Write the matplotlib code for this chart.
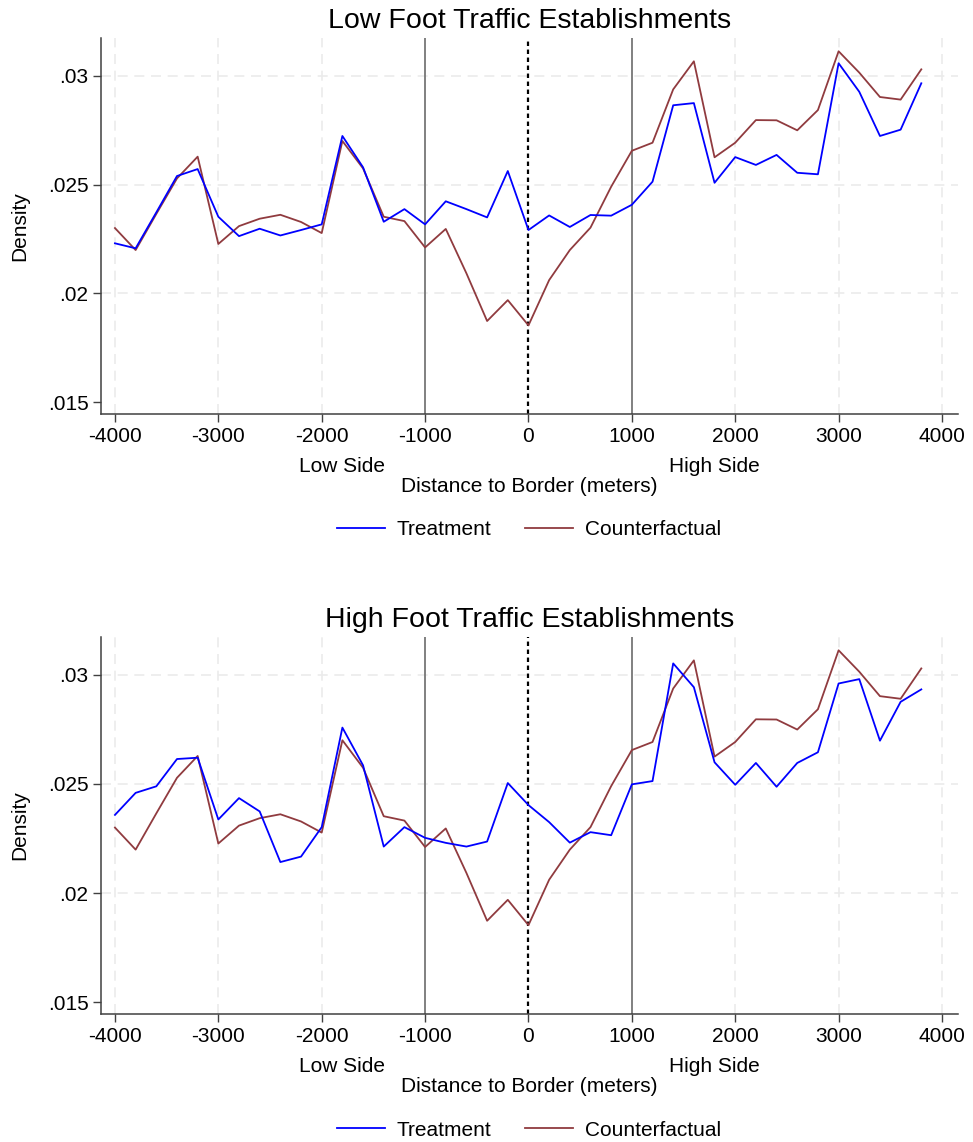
import matplotlib
matplotlib.use("Agg")
import matplotlib.pyplot as plt
import numpy as np

plt.rcParams['font.family'] = ['Liberation Sans', 'DejaVu Sans']

distance = list(range(-4000, 4000, 200))

treat_low = [0.02230, 0.02207, 0.02372, 0.02539, 0.02571, 0.02352, 0.02263, 0.02297,
             0.02266, 0.02291, 0.02317, 0.02723, 0.02579, 0.02329, 0.02387, 0.02317,
             0.02423, 0.02387, 0.02349, 0.02562, 0.02291, 0.02358, 0.02305, 0.02360,
             0.02357, 0.02407, 0.02513, 0.02864, 0.02874, 0.02508, 0.02626, 0.02590,
             0.02636, 0.02554, 0.02547, 0.03057, 0.02926, 0.02723, 0.02752, 0.02965]

treat_high = [0.02358, 0.02459, 0.02489, 0.02614, 0.02620, 0.02337, 0.02435, 0.02374,
              0.02142, 0.02167, 0.02302, 0.02758, 0.02585, 0.02213, 0.02302, 0.02253,
              0.02230, 0.02213, 0.02236, 0.02504, 0.02403, 0.02325, 0.02231, 0.02279,
              0.02265, 0.02498, 0.02513, 0.03052, 0.02943, 0.02599, 0.02496, 0.02596,
              0.02487, 0.02596, 0.02645, 0.02960, 0.02980, 0.02698, 0.02876, 0.02933]

counterfactual = [0.02300, 0.02199, 0.02365, 0.02528, 0.02628, 0.02227, 0.02309, 0.02343,
                  0.02361, 0.02328, 0.02277, 0.02700, 0.02574, 0.02352, 0.02332, 0.02211,
                  0.02296, 0.02092, 0.01873, 0.01969, 0.01853, 0.02061, 0.02199, 0.02302,
                  0.02490, 0.02655, 0.02692, 0.02937, 0.03066, 0.02625, 0.02692, 0.02796,
                  0.02795, 0.02749, 0.02842, 0.03112, 0.03014, 0.02902, 0.02890, 0.03029]

titles = ["Low Foot Traffic Establishments", "High Foot Traffic Establishments"]
xticks = [-4000, -3000, -2000, -1000, 0, 1000, 2000, 3000, 4000]
yticks = [0.015, 0.02, 0.025, 0.03]
ytick_labels = [".015", ".02", ".025", ".03"]

W, H = 973, 1142
fig = plt.figure(figsize=(W / 100, H / 100), dpi=100)

BLUE = '#0000ff'
RED = '#903b3f'
FS = 15
px2pt = 72 / 100

panels = [
    (38, 414, treat_low),
    (637, 1014, treat_high),
]

for i, (top, bot, treat) in enumerate(panels):
    left, right = 101, 958
    ax = fig.add_axes([left / W, 1 - bot / H, (right - left) / W, (bot - top) / H])
    ax.set_xlim(-4135, 4155)
    ax.set_ylim(0.01446, 0.03173)

    # grid
    for xv in [-4000, -3000, -2000, 2000, 3000, 4000]:
        ax.axvline(xv, color='#ebebeb', lw=1.2, ls=(0, (6, 4)), zorder=0)
    for yv in [0.02, 0.025, 0.03]:
        ax.axhline(yv, color='#ebebeb', lw=1.2, ls=(0, (6, 4)), zorder=0)

    ax.axvline(-1000, color='#808080', lw=1.4, zorder=1)
    ax.axvline(1000, color='#808080', lw=1.4, zorder=1)
    ax.axvline(0, color='black', lw=1.6, ls=(0, (2, 1.6)), zorder=1)

    l1, = ax.plot(distance, treat, color=BLUE, lw=1.3, zorder=3, label='Treatment')
    l2, = ax.plot(distance, counterfactual, color=RED, lw=1.3, zorder=2, label='Counterfactual')

    ax.set_xticks(xticks)
    ax.set_xticklabels([str(v) for v in xticks], fontsize=FS)
    ax.set_yticks(yticks)
    ax.set_yticklabels(ytick_labels, fontsize=FS)
    ax.tick_params(direction='out', length=6, width=1, color='#404040', pad=3)

    for s in ['top', 'right']:
        ax.spines[s].set_visible(False)
    for s in ['left', 'bottom']:
        ax.spines[s].set_color('#404040')
        ax.spines[s].set_linewidth(1.1)

    ax.set_ylabel('Density', fontsize=FS, va='center')
    ax.yaxis.set_label_coords((20 - left) / (right - left), 0.5)

    ax.set_title(titles[i], fontsize=20.5, pad=7)

    for xs, lab in [(-1800, 'Low Side'), (1800, 'High Side')]:
        ax.annotate(lab, xy=(xs, 0), xycoords=('data', 'axes fraction'),
                    xytext=(0, -53 * px2pt), textcoords='offset points',
                    ha='center', va='center', fontsize=FS)
    ax.annotate('Distance to Border (meters)', xy=(0.5, 0), xycoords='axes fraction',
                xytext=(0, -73 * px2pt), textcoords='offset points',
                ha='center', va='center', fontsize=FS)

    fig.legend(handles=[l1, l2], loc='center', ncol=2, frameon=False,
               bbox_to_anchor=(529 / W, 1 - (bot + 116) / H), fontsize=FS,
               handlelength=2.3, handletextpad=0.58, columnspacing=1.63)

fig.savefig('out.png', dpi=100, facecolor='white')
